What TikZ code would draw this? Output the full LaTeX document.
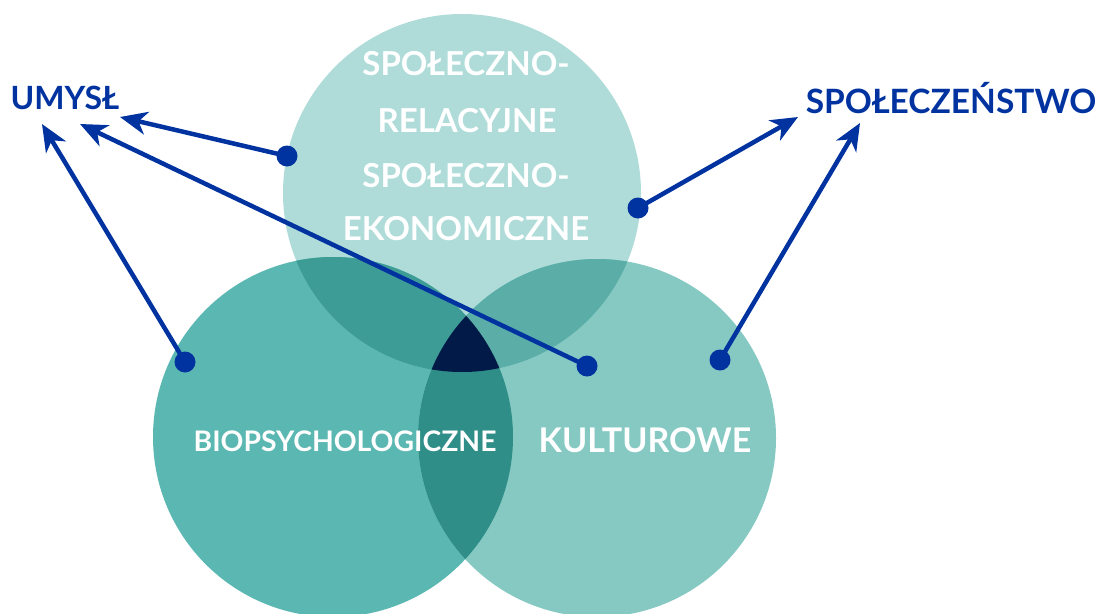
\documentclass[tikz,border=0pt]{standalone}
\usepackage{fontspec}
\setmainfont{Lato}
\usetikzlibrary{positioning, arrows.meta}

\definecolor{topc}{HTML}{AFDCD9}
\definecolor{leftc}{HTML}{5BB7B1}
\definecolor{rightc}{HTML}{86C9C3}
\definecolor{tlc}{HTML}{3E9C97}
\definecolor{trc}{HTML}{5BADA7}
\definecolor{lrc}{HTML}{2F8E88}
\definecolor{midc}{HTML}{021A47}
\definecolor{arrowblue}{HTML}{0033A0}

\begin{document}
\begin{tikzpicture}[
    x=1pt, y=-1pt,
    dot/.style={circle, fill=arrowblue, inner sep=0pt, minimum size=21pt},
    link/.style={draw=arrowblue, line width=4.5pt, -{Stealth[length=27pt, width=23pt, inset=8pt]}},
    outlabel/.style={text=arrowblue, font=\fontsize{32}{32}\selectfont\bfseries, inner sep=0pt},
    inlabel/.style={text=white, font=\fontsize{33}{33}\selectfont\bfseries, inner sep=0pt}
]
    \useasboundingbox (0,0) rectangle (1097,613);

    % --- Circles ---
    \fill[topc] (462,193) circle (179);
    \fill[leftc] (333,437) circle (180);
    \fill[rightc] (597,438) circle (179);

    % --- Overlaps ---
    \begin{scope}
        \clip (462,193) circle (179);
        \fill[tlc] (333,437) circle (180);
        \fill[trc] (597,438) circle (179);
    \end{scope}
    \begin{scope}
        \clip (333,437) circle (180);
        \fill[lrc] (597,438) circle (179);
        \clip (597,438) circle (179);
        \fill[midc] (462,193) circle (179);
    \end{scope}

    % --- Circle texts ---
    \node[inlabel] (sr1) at (466,64) {SPOŁECZNO-};
    \node[inlabel] (sr2) at (467,121) {RELACYJNE};
    \node[inlabel] (se1) at (466,176) {SPOŁECZNO-};
    \node[inlabel] (se2) at (466,229) {EKONOMICZNE};
    \node[inlabel, font=\fontsize{28.3}{28}\selectfont\bfseries] (bio) at (345,441) {BIOPSYCHOLOGICZNE};
    \node[inlabel, font=\fontsize{34}{34}\selectfont\bfseries] (kult) at (645,440) {KULTUROWE};

    % --- Outer labels ---
    \node[outlabel] (umysl) at (65,98) {UMYSŁ};
    \node[outlabel, font=\fontsize{33.5}{33}\selectfont\bfseries] (spol) at (951,98) {SPOŁECZEŃSTWO};

    % --- Arrow ends ---
    \coordinate (umysl-a) at (120,117);
    \coordinate (umysl-b) at (80,124);
    \coordinate (umysl-c) at (42,124);
    \coordinate (spol-a) at (798,117);
    \coordinate (spol-b) at (860,123);

    % --- Dots ---
    \node[dot] (d1) at (287,156) {};
    \node[dot] (d2) at (587,366) {};
    \node[dot] (d3) at (185,362) {};
    \node[dot] (d4) at (638,208) {};
    \node[dot] (d5) at (720,360) {};

    % --- Arrows ---
    \draw[link] (d1.center) -- (umysl-a);
    \draw[link] (d2.center) -- (umysl-b);
    \draw[link] (d3.center) -- (umysl-c);
    \draw[link] (d4.center) -- (spol-a);
    \draw[link] (d5.center) -- (spol-b);

\end{tikzpicture}
\end{document}
